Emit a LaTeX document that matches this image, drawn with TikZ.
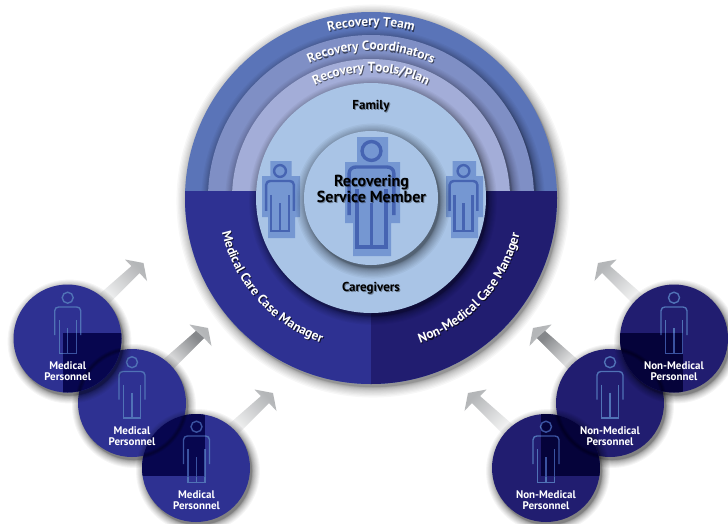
\documentclass[tikz,border=0pt]{standalone}
\usepackage{fontspec}
\setmainfont{PT Sans}
\usetikzlibrary{decorations.text}
\definecolor{teamc}{HTML}{5A74B8}
\definecolor{coordc}{HTML}{7F8FC5}
\definecolor{toolsc}{HTML}{A3ADD8}
\definecolor{famc}{HTML}{A9C4E6}
\definecolor{medc}{HTML}{2E3192}
\definecolor{nonc}{HTML}{211D70}
\definecolor{meddark}{HTML}{07064F}
\definecolor{nondark}{HTML}{05033A}
\definecolor{figbig}{HTML}{4664B2}
\definecolor{figsq}{HTML}{7597D2}
\definecolor{figsmall}{HTML}{5072B6}
\definecolor{figdim}{HTML}{3A52A0}
\definecolor{arrowgray}{HTML}{B4B6B8}
\definecolor{arrowdark}{HTML}{85878A}
\tikzset{
  smalltext/.style={text=white,align=center,font=\bfseries\fontsize{11}{11.3}\selectfont,inner sep=0pt},
  blacktext/.style={text=black,align=center,font=\bfseries\fontsize{13}{13}\selectfont,inner sep=0pt},
  membertext/.style={blacktext,font=\bfseries\fontsize{16}{16.5}\selectfont},
  figsquare/.style={fill=figsq},
}
% soft shadow: x y radius spread strength (discs crowd towards the inner edge)
\newcommand{\softshadow}[5]{%
  \foreach \i in {1,...,16}{%
    \pgfmathsetmacro{\rr}{#3+#4*(1-\i/16)*(1-\i/16)}%
    \fill[black,opacity=#5] (#1+2,#2+3) circle (\rr pt);
  }%
}
% person: x headY scale linewidth colour
\newcommand{\personfig}[5]{%
  \begin{scope}[shift={(#1,#2)},scale=#3]
    \draw[#5,line width=#4pt] (0,0) circle (5.5pt);
    \draw[#5,line width=#4pt,line join=round]
      (-13,37.3) -- (-13,13) .. controls (-13,10.5) and (-11,9.3) .. (-9,9.3)
      -- (9,9.3) .. controls (11,9.3) and (13,10.5) .. (13,13) -- (13,37.3);
    \draw[#5,line width=#4pt,line join=miter]
      (-8.5,22.3) -- (-8.5,55.8) -- (8.5,55.8) -- (8.5,22.3);
    \draw[#5,line width=#4pt] (0,30.3) -- (0,55.8);
  \end{scope}%
}
% arrow: tip x, tip y, side, shading angle
\newcommand{\grayarrow}[4]{%
  \shade[top color=arrowgray,bottom color=white,shading angle=#4]
    (#1,#2) -- (#1+#3*3.5,#2+18) -- (#1-#3*4,#2+10) -- (#1-#3*42,#2+48)
    -- (#1-#3*52,#2+38) -- (#1-#3*12,#2+3) -- (#1-#3*18.5,#2-3.5) -- cycle;
}
% darker shaft of the middle arrows
\newcommand{\darkshaft}[4]{%
  \shade[top color=arrowdark,bottom color=white,shading angle=#4]
    (#1-#3*4,#2+10) -- (#1-#3*42,#2+48) -- (#1-#3*52,#2+38) -- (#1-#3*12,#2+3) -- cycle;
}
% text on the ring: start angle, end angle, radius, shadow colour, text
\newcommand{\arclabel}[5]{%
  \path[shift={(0.9,1.1)},decorate,decoration={text along path,text align={center},
    text={|\bfseries\fontsize{13.2}{13}\selectfont\color{#4}|#5}}]
    (371,198) ++(#1:#3pt) arc[start angle=#1,end angle=#2,radius=#3pt];
  \path[decorate,decoration={text along path,text align={center},
    text={|\bfseries\fontsize{13.2}{13}\selectfont\color{white}|#5}}]
    (371,198) ++(#1:#3pt) arc[start angle=#1,end angle=#2,radius=#3pt];
}
\begin{document}
\begin{tikzpicture}[x=1pt,y=-1pt]
\useasboundingbox (0,0) rectangle (728,523);
\fill[white] (0,0) rectangle (728,523);
% arrows
\grayarrow{143.5}{263}{1}{-45}
\grayarrow{208}{328}{1}{-45}
\darkshaft{208}{328}{1}{-45}
\grayarrow{273}{393}{1}{-45}
\grayarrow{598}{263}{-1}{45}
\grayarrow{533}{328}{-1}{45}
\darkshaft{533}{328}{-1}{45}
\grayarrow{468}{393}{-1}{45}
% main disc
\softshadow{371}{198}{186}{12}{0.03}
\fill[teamc] (371,198) circle (186pt);
\softshadow{371}{198}{163}{10}{0.03}
\fill[coordc] (371,198) circle (163pt);
\softshadow{371}{198}{139}{10}{0.03}
\fill[toolsc] (371,198) circle (139pt);
\begin{scope}
  \clip (170,191) rectangle (371,400);
  \fill[medc] (371,198) circle (186pt);
\end{scope}
\begin{scope}
  \clip (371,191) rectangle (570,400);
  \fill[nonc] (371,198) circle (186pt);
\end{scope}
\softshadow{371}{198}{115}{10}{0.035}
\fill[famc] (371,198) circle (115pt);
% side figures
\fill[figsquare] (270.3,161) rectangle (291.7,176) (262,176) rectangle (300,217) (268,217) rectangle (295,238);
\fill[figsquare] (452.7,161) rectangle (476,176) (446,176) rectangle (483,217) (451,217) rectangle (478,238);
\personfig{280}{171}{1.07}{2.4}{figbig}
\personfig{463.5}{171}{1.07}{2.4}{figbig}
% centre
\softshadow{371}{198}{67}{12}{0.04}
\fill[famc] (371,198) circle (67pt);
\fill[figsquare] (357,137) rectangle (388,162) (345,162) rectangle (400,223) (353,223) rectangle (391,256);
\personfig{371.5}{151}{1.72}{3.4}{figbig}
% ring labels
\arclabel{150}{30}{172}{black!55!teamc}{Recovery Team}
\arclabel{150}{30}{148}{black!55!coordc}{Recovery Coordinators}
\arclabel{150}{30}{126}{black!55!toolsc}{Recovery Tools/Plan}
\arclabel{184}{260}{153}{black!70!medc}{Medical Care Case Manager}
\arclabel{279}{356}{153}{black!70!nonc}{Non-Medical Case Manager}
% inner labels
\node[blacktext,opacity=.35] (familyS) at (372,107) {Family};
\node[blacktext] (family) at (371,106) {Family};
\node[blacktext,opacity=.35] (careS) at (372,289) {Caregivers};
\node[blacktext] (care) at (371,288) {Caregivers};
\node[membertext,opacity=.35] (memberS) at (372.5,190) {Recovering\\Service Member};
\node[membertext] (member) at (371.5,189) {Recovering\\Service Member};
% left small circles
\softshadow{132}{403}{54}{9}{0.04}
\fill[medc] (132,403) circle (54pt);
\personfig{132}{362.2}{1}{1.4}{figsmall}
\softshadow{67.5}{338.5}{54}{9}{0.04}
\fill[medc] (67.5,338.5) circle (54pt);
\personfig{67.7}{297.7}{1}{1.4}{figsmall}
\softshadow{196}{468}{54}{9}{0.04}
\fill[medc] (196,468) circle (54pt);
\personfig{196.5}{426.7}{1}{1.4}{figsmall}
\begin{scope}
  \clip (67.5,338.5) circle (54pt);
  \clip (63,333) rectangle (130,400);
  \fill[meddark] (0,280) rectangle (130,400);
  \foreach \w in {1,3,5}{\draw[black,opacity=.12,line width=\w pt] (132,403) circle (54pt);}
  \personfig{67.7}{297.7}{1}{1.4}{figdim}
\end{scope}
\begin{scope}
  \clip (196,468) circle (54pt);
  \clip (130,405) rectangle (205,476);
  \fill[meddark] (130,405) rectangle (205,476);
  \foreach \w in {1,3,5}{\draw[black,opacity=.12,line width=\w pt] (132,403) circle (54pt);}
  \personfig{196.5}{426.7}{1}{1.4}{figdim}
\end{scope}
\node[smalltext] (m1) at (67.7,371.5) {Medical\\Personnel};
\node[smalltext] (m2) at (132,436) {Medical\\Personnel};
\node[smalltext] (m3) at (196.5,500) {Medical\\Personnel};
% right small circles
\softshadow{610}{403}{54}{9}{0.04}
\fill[nonc] (610,403) circle (54pt);
\personfig{610}{362.2}{1}{1.4}{figsmall}
\softshadow{674}{338.5}{54}{9}{0.04}
\fill[nonc] (674,338.5) circle (54pt);
\personfig{674}{297.7}{1}{1.4}{figsmall}
\softshadow{546}{468}{54}{9}{0.04}
\fill[nonc] (546,468) circle (54pt);
\personfig{546}{426.7}{1}{1.4}{figsmall}
\begin{scope}
  \clip (674,338.5) circle (54pt);
  \clip (610,333) rectangle (683,400);
  \fill[nondark] (610,333) rectangle (683,400);
  \foreach \w in {1,3,5}{\draw[black,opacity=.12,line width=\w pt] (610,403) circle (54pt);}
  \personfig{674}{297.7}{1}{1.4}{figdim}
\end{scope}
\begin{scope}
  \clip (546,468) circle (54pt);
  \clip (541,405) rectangle (610,476);
  \fill[nondark] (541,405) rectangle (610,476);
  \foreach \w in {1,3,5}{\draw[black,opacity=.12,line width=\w pt] (610,403) circle (54pt);}
  \personfig{546}{426.7}{1}{1.4}{figdim}
\end{scope}
\node[smalltext] (n1) at (674,371.5) {Non-Medical\\Personnel};
\node[smalltext] (n2) at (610,436) {Non-Medical\\Personnel};
\node[smalltext] (n3) at (546,500) {Non-Medical\\Personnel};
\end{tikzpicture}
\end{document}
